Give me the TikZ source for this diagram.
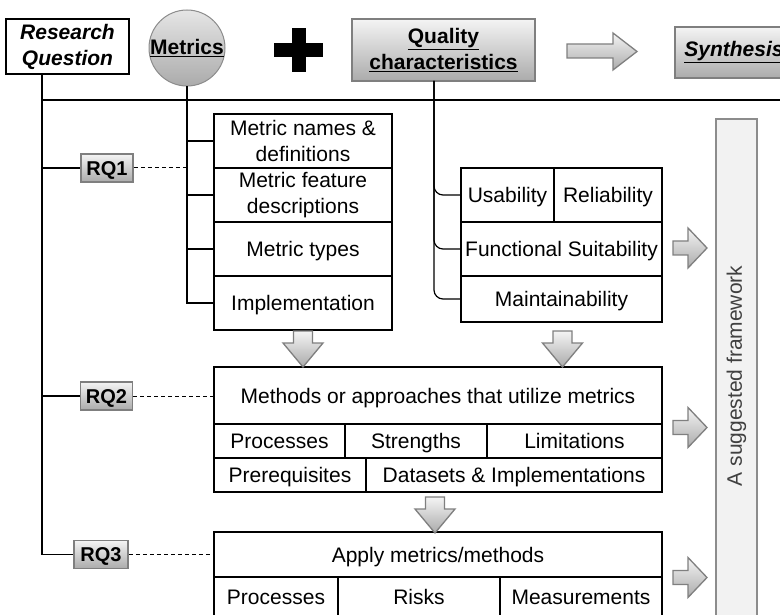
\documentclass[tikz,border=0pt]{standalone}
\usepackage{fontspec}
\setmainfont{Liberation Sans}
\usetikzlibrary{positioning,shadings}

\definecolor{gtop}{HTML}{F4F4F4}
\definecolor{gbot}{HTML}{ABABAB}
\definecolor{edge}{HTML}{7F7F7F}
\definecolor{barfill}{HTML}{F2F2F2}
\definecolor{bardraw}{HTML}{8C8C8C}
\definecolor{fwtext}{HTML}{404040}

\newcommand{\bigfont}{\fontsize{21}{26}\selectfont}
\tikzset{cell/.style={font=\bigfont, draw, line width=1.2pt, inner sep=0pt, outer sep=0pt, align=center, minimum height=54}}
\tikzset{one/.style={text height=15.2pt, text depth=0pt}}
\tikzset{gbox/.style={draw=edge, line width=1.5pt, top color=gtop, bottom color=gbot}}
\tikzset{rqbox/.style={gbox, one, inner sep=0pt, minimum width=52, minimum height=28, text height=14.4pt, font=\fontsize{20}{24}\selectfont\bfseries}}
\tikzset{darrow/.pic={\draw[gbox, line width=1.3pt] (-9.5,0) -- (9.5,0) -- (9.5,12) -- (20,12) -- (0,36) -- (-20,12) -- (-9.5,12) -- cycle;}}
\tikzset{rarrow/.pic={\draw[gbox, line width=1.3pt] (0,-7) -- (15,-7) -- (15,-20) -- (34,0) -- (15,20) -- (15,7) -- (0,7) -- cycle;}}

\begin{document}
\begin{tikzpicture}[x=1pt, y=-1pt, node distance=0pt]
    \clip (0,0) rectangle (780,615);
    \useasboundingbox (0,0) rectangle (780,615);

    \node[draw, line width=2pt, minimum width=123, minimum height=55, inner sep=0pt, align=center, font=\bigfont\bfseries\itshape] (rq) at (67.5,46.5) {Research\\Question};
    \node[gbox, circle, minimum size=76, inner sep=0pt, draw=bardraw, line width=1pt, top color=gtop!80!gbot, bottom color=gbot, font=\bigfont\bfseries] (met) at (187,48) {\underline{Metrics}};
    \fill (274,43) rectangle (323,57);
    \fill (291.5,28) rectangle (305.5,72);
    \node[gbox, align=center, minimum width=183, minimum height=62, inner sep=0pt, font=\bigfont\bfseries] (qc) at (443.5,50) {\underline{Quality}\\\underline{characteristics}};
    \draw[gbox, line width=1.3pt] (567,44) -- (613,44) -- (613,33) -- (637,51.5) -- (613,70) -- (613,58) -- (567,58) -- cycle;
    \node[gbox, anchor=west, minimum width=118, minimum height=51, inner sep=0pt, line width=2pt, font=\bigfont\bfseries\itshape] (syn) at (674,52.5) {\underline{Synthesis}};

    \coordinate (s0) at (42,74);
    \coordinate (hl) at (42,100);
    \coordinate (hr) at (780,100);
    \coordinate (qs) at (434,81);
    \draw[line width=2.2pt] (hl) -- (hr);

    \node[cell, minimum width=178] (m1) at (303,141) {Metric names \&\\definitions};
    \node[cell, minimum width=178, below=of m1] (m2) {Metric feature\\descriptions};
    \node[cell, one, minimum width=178, below=of m2] (m3) {Metric types};
    \node[cell, one, minimum width=178, below=of m3] (m4) {Implementation};

    \draw[line width=1.2pt] (met.south) |- (m1.west);
    \draw[line width=1.2pt] (met.south) |- (m2.west);
    \draw[line width=1.2pt] (met.south) |- (m3.west);
    \draw[line width=1.2pt] (met.south) |- (m4.west);

    \node[cell, one, minimum width=93] (us) at (507.5,195) {Usability};
    \node[cell, one, minimum width=108, right=of us] (re) {Reliability};
    \node[cell, one, minimum width=201, anchor=north west] (fs) at (us.south west) {Functional Suitability};
    \node[cell, one, minimum width=201, minimum height=46, below=of fs] (mt) {Maintainability};

    \draw[line width=1.2pt, rounded corners=9] (qs) |- (us.west);
    \draw[line width=1.2pt, rounded corners=9] (qs) |- (fs.west);
    \draw[line width=1.2pt, rounded corners=9] (qs) |- (mt.west);

    \node[cell, one, minimum width=448, minimum height=57] (ma) at (438,395.5) {Methods or approaches that utilize metrics};
    \node[cell, one, minimum width=131, minimum height=34, anchor=north west] (pc1) at (ma.south west) {Processes};
    \node[cell, one, minimum width=142, minimum height=34, right=of pc1] (st) {Strengths};
    \node[cell, one, minimum width=175, minimum height=34, right=of st] (li) {Limitations};
    \node[cell, one, minimum width=152, minimum height=34, anchor=north west] (pr) at (pc1.south west) {Prerequisites};
    \node[cell, one, minimum width=296, minimum height=34, right=of pr] (ds) {Datasets \& Implementations};

    \node[cell, one, minimum width=448, minimum height=45] (ap) at (438,554.5) {Apply metrics/methods};
    \node[cell, one, minimum width=124, minimum height=40, anchor=north west] (pc2) at (ap.south west) {Processes};
    \node[cell, one, minimum width=162, minimum height=40, right=of pc2] (rk) {Risks};
    \node[cell, one, minimum width=162, minimum height=40, right=of rk] (ms) {Measurements};
    \draw[line width=2pt] (rk.north west) -- (rk.south west);
    \draw[line width=2pt] (rk.north east) -- (rk.south east);

    \node[rqbox] (q1) at (107,168) {RQ1};
    \node[rqbox] (q2) at (106.5,396) {RQ2};
    \node[rqbox, minimum width=54] (q3) at (101,554.5) {RQ3};

    \draw[line width=1.2pt] (s0) |- (q1.west);
    \draw[line width=1.2pt] (s0) |- (q2.west);
    \draw[line width=1.2pt] (s0) |- (q3.west);
    \draw[line width=1pt, dash pattern=on 4pt off 3pt] (q1.east) -- (q1.east -| met.south);
    \draw[line width=1pt, dash pattern=on 4pt off 3pt] (q2.east) -- (q2.east -| ma.west);
    \draw[line width=1pt, dash pattern=on 4pt off 3pt] (q3.east) -- (q3.east -| ap.west);

    \pic at (303,331) {darrow};
    \pic at (562.5,331) {darrow};
    \pic at (435,497) {darrow};
    \pic at (673,248) {rarrow};
    \pic at (673,427.5) {rarrow};
    \pic at (673,577.5) {rarrow};

    \node[font=\bigfont, rotate=90, draw=bardraw, fill=barfill, line width=1.5pt, text=fwtext, minimum width=514, minimum height=41, inner sep=0pt] (fw) at (736.5,376) {A suggested framework};
\end{tikzpicture}
\end{document}
